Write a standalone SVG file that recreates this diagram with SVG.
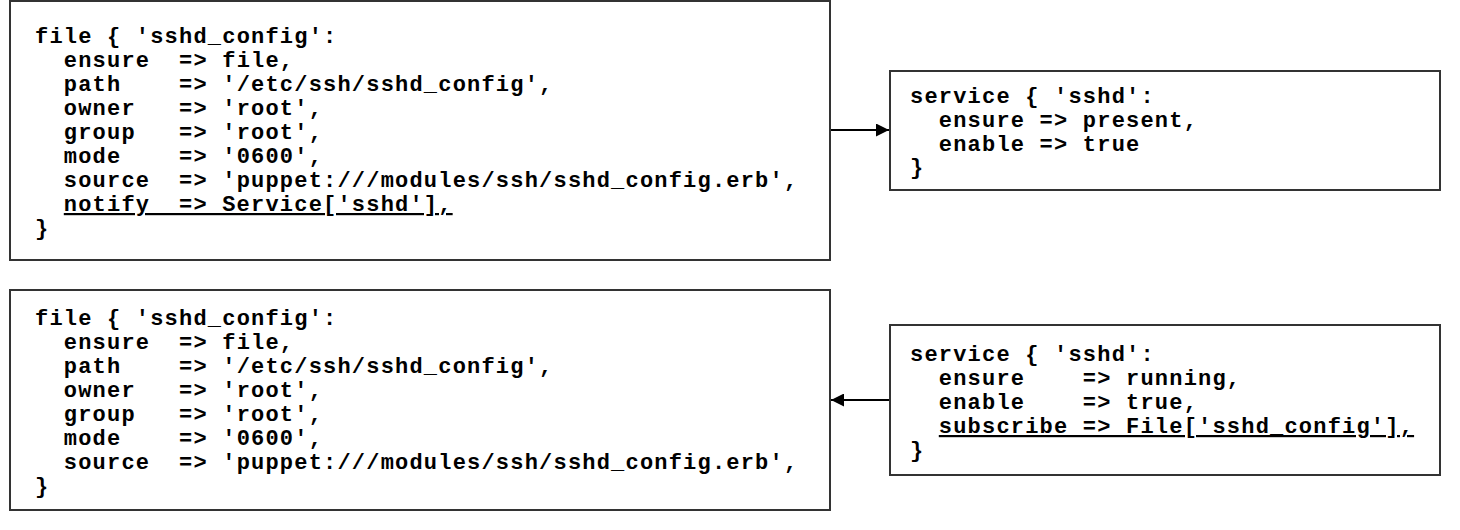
<svg xmlns="http://www.w3.org/2000/svg" width="1460" height="530" viewBox="0 0 1460 530">
<style>
.box{fill:#fff;stroke:#333;stroke-width:2}
.code{font-family:"Liberation Mono","Courier New",monospace;font-weight:bold;font-size:22px;letter-spacing:1.2px;fill:#000;white-space:pre}
.u{text-decoration:underline;text-decoration-skip-ink:none}
.conn{stroke:#000;stroke-width:2;fill:none}
</style>
<defs>
<marker id="ah" viewBox="0 0 13 13" refX="13" refY="6.5" markerWidth="13" markerHeight="13" markerUnits="userSpaceOnUse" orient="auto">
<path d="M0,0 L13,6.5 L0,13 Z" fill="#000"/>
</marker>
</defs>
<rect width="1460" height="530" fill="#fff"/>
<g id="file-notify">
<rect class="box" x="10" y="1" width="820" height="259"/>
<text class="code" xml:space="preserve" x="35" y="43">file { 'sshd_config':</text>
<text class="code" xml:space="preserve" x="35" y="67">  ensure  => file,</text>
<text class="code" xml:space="preserve" x="35" y="91">  path    => '/etc/ssh/sshd_config',</text>
<text class="code" xml:space="preserve" x="35" y="115">  owner   => 'root',</text>
<text class="code" xml:space="preserve" x="35" y="139">  group   => 'root',</text>
<text class="code" xml:space="preserve" x="35" y="163">  mode    => '0600',</text>
<text class="code" xml:space="preserve" x="35" y="187">  source  => 'puppet:///modules/ssh/sshd_config.erb',</text>
<text class="code u" xml:space="preserve" x="63.8" y="211">notify  => Service['sshd'],</text>
<text class="code" xml:space="preserve" x="35" y="235">}</text>
</g>
<g id="service-present">
<rect class="box" x="890" y="71" width="550" height="119"/>
<text class="code" xml:space="preserve" x="910" y="103">service { 'sshd':</text>
<text class="code" xml:space="preserve" x="910" y="127">  ensure => present,</text>
<text class="code" xml:space="preserve" x="910" y="151">  enable => true</text>
<text class="code" xml:space="preserve" x="910" y="174">}</text>
</g>
<g id="file-plain">
<rect class="box" x="10" y="290" width="820" height="220"/>
<text class="code" xml:space="preserve" x="35" y="325">file { 'sshd_config':</text>
<text class="code" xml:space="preserve" x="35" y="349">  ensure  => file,</text>
<text class="code" xml:space="preserve" x="35" y="373">  path    => '/etc/ssh/sshd_config',</text>
<text class="code" xml:space="preserve" x="35" y="397">  owner   => 'root',</text>
<text class="code" xml:space="preserve" x="35" y="421">  group   => 'root',</text>
<text class="code" xml:space="preserve" x="35" y="445">  mode    => '0600',</text>
<text class="code" xml:space="preserve" x="35" y="469">  source  => 'puppet:///modules/ssh/sshd_config.erb',</text>
<text class="code" xml:space="preserve" x="35" y="493">}</text>
</g>
<g id="service-subscribe">
<rect class="box" x="890" y="325" width="550" height="150"/>
<text class="code" xml:space="preserve" x="910" y="361">service { 'sshd':</text>
<text class="code" xml:space="preserve" x="910" y="385">  ensure    => running,</text>
<text class="code" xml:space="preserve" x="910" y="409">  enable    => true,</text>
<text class="code u" xml:space="preserve" x="938.8" y="433">subscribe => File['sshd_config'],</text>
<text class="code" xml:space="preserve" x="910" y="457">}</text>
</g>
<g id="connectors">
<line class="conn" x1="831" y1="130" x2="889" y2="130" marker-end="url(#ah)"/>
<line class="conn" x1="889" y1="400" x2="831" y2="400" marker-end="url(#ah)"/>
</g>
</svg>
